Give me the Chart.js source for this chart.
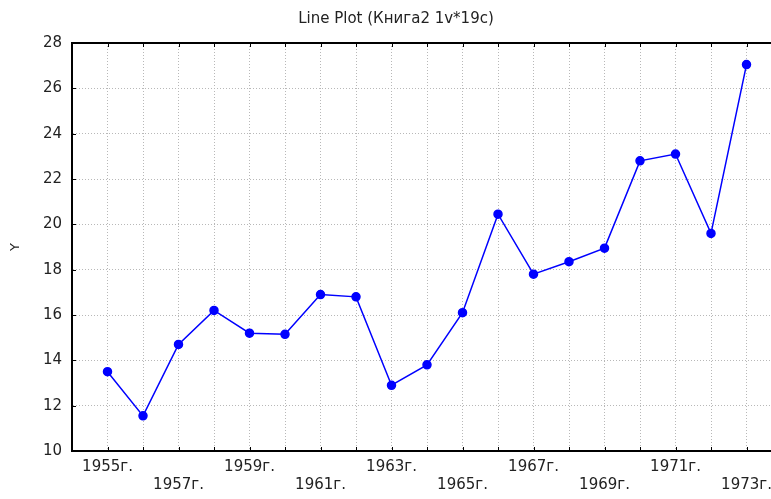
<!DOCTYPE html>
<html>
<head>
<meta charset="utf-8">
<script src="https://cdn.jsdelivr.net/npm/chart.js@4/dist/chart.umd.min.js"></script>
<style>
  html, body { margin: 0; padding: 0; background: #fff; overflow: hidden; }
  #wrap { width: 771px; height: 499px; overflow: hidden; }
</style>
</head>
<body>
<div id="wrap"><canvas id="grafica" width="800" height="499"></canvas></div>
<script>
// Годы и значения ряда
const years = [1955, 1956, 1957, 1958, 1959, 1960, 1961, 1962, 1963, 1964,
               1965, 1966, 1967, 1968, 1969, 1970, 1971, 1972, 1973];
const values = [13.5, 11.55, 14.7, 16.2, 15.2, 15.15, 16.9, 16.8, 12.9, 13.8,
                16.1, 20.45, 17.8, 18.35, 18.95, 22.8, 23.1, 19.6, 27.05];

// Подписи по оси X идут в два ряда
const topRowYears = [1955, 1959, 1963, 1967, 1971];
const bottomRowYears = [1957, 1961, 1965, 1969, 1973];

const yMin = 10, yMax = 28, yStep = 2;
const xMin = 1954, xMax = 1974;

const fontFamily = '"DejaVu Sans", Arial, sans-serif';
const textColor = '#222';

// Верхняя рамка и короткие засечки внутрь области графика
const framePlugin = {
    id: 'frame',
    afterDraw(chart) {
        const { ctx, chartArea: a, scales: { x, y } } = chart;
        ctx.save();
        ctx.strokeStyle = '#000';
        ctx.lineWidth = 2;
        ctx.beginPath();
        ctx.moveTo(a.left - 1, a.top);
        ctx.lineTo(a.right, a.top);
        ctx.stroke();

        ctx.lineWidth = 1;
        ctx.beginPath();
        years.forEach(yr => {
            const px = Math.round(x.getPixelForValue(yr)) + 0.5;
            ctx.moveTo(px, a.bottom);
            ctx.lineTo(px, a.bottom - 4);
            ctx.moveTo(px, a.top);
            ctx.lineTo(px, a.top + 4);
        });
        for (let v = yMin + yStep; v < yMax; v += yStep) {
            const py = Math.round(y.getPixelForValue(v)) + 0.5;
            ctx.moveTo(a.left, py);
            ctx.lineTo(a.left + 4, py);
        }
        ctx.stroke();
        ctx.restore();
    }
};

new Chart(document.getElementById('grafica').getContext('2d'), {
    type: 'line',
    data: {
        datasets: [{
            label: 'Y',
            data: years.map((yr, i) => ({ x: yr, y: values[i] })),
            borderColor: '#0000ff',
            backgroundColor: '#0000ff',
            borderWidth: 1.5,
            pointRadius: 4,
            pointHoverRadius: 4,
            tension: 0
        }]
    },
    options: {
        responsive: false,
        animation: false,
        devicePixelRatio: 1,
        layout: { padding: { left: 10, right: 18, top: 0, bottom: 0 } },
        plugins: {
            legend: { display: false },
            tooltip: { enabled: false },
            title: {
                display: true,
                text: 'Line Plot (Книга2 1v*19c)',
                color: textColor,
                font: { family: fontFamily, size: 15, weight: 'normal' },
                padding: { top: 10, bottom: 15 }
            }
        },
        scales: {
            x: {
                type: 'linear',
                min: xMin,
                max: xMax,
                grid: { color: '#b8b8b8', drawTicks: false },
                border: { display: true, color: '#000', width: 2, dash: [1, 2] },
                ticks: {
                    stepSize: 1,
                    autoSkip: false,
                    maxRotation: 0,
                    padding: 7,
                    color: textColor,
                    font: { family: fontFamily, size: 15 },
                    callback: (v) => {
                        if (topRowYears.includes(v)) return [v + 'г.', ''];
                        if (bottomRowYears.includes(v)) return ['', v + 'г.'];
                        return '';
                    }
                },
                afterFit: (scale) => { scale.height = 48; }
            },
            y: {
                min: yMin,
                max: yMax,
                grid: { color: '#b8b8b8', drawTicks: false },
                border: { display: true, color: '#000', width: 2, dash: [1, 2] },
                ticks: {
                    stepSize: yStep,
                    padding: 10,
                    color: textColor,
                    font: { family: fontFamily, size: 15 }
                },
                title: {
                    display: true,
                    text: 'Y',
                    color: textColor,
                    font: { family: fontFamily, size: 13 },
                    padding: { top: -2, bottom: 0 }
                },
                afterFit: (scale) => { scale.width = 62; }
            }
        }
    },
    plugins: [framePlugin]
});
</script>
</body>
</html>
